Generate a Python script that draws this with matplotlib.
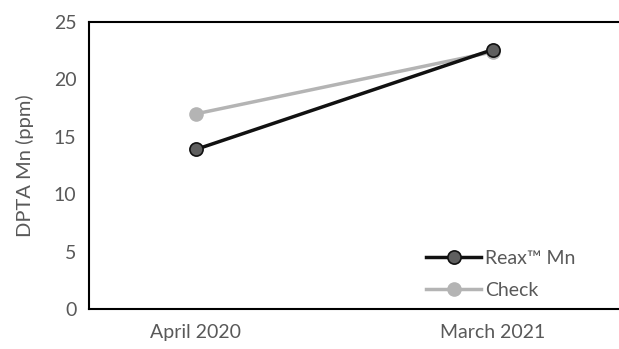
import matplotlib
matplotlib.use("Agg")
from matplotlib import pyplot as plt

dates = ["April 2020", "March 2021"]
reax = [13.9, 22.6]
check = [17.0, 22.4]

plt.rcParams['font.family'] = ['Lato', 'DejaVu Sans']
grey_text = '#595959'

fig = plt.figure(figsize=(6.19, 3.49), dpi=100)
ax = fig.add_axes([89 / 619, 40 / 349, 530 / 619, 287 / 349])

x = range(len(dates))
ax.plot(x, reax, color='#111111', lw=2.5, marker='o', ms=9.5,
        mfc='#5f5f5f', mec='#111111', mew=1.2, label='Reax™ Mn', zorder=3)
ax.plot(x, check, color='#b4b4b4', lw=2.5, marker='o', ms=9.5,
        mfc='#b4b4b4', mec='#b4b4b4', label='Check', zorder=2)

ax.set_xlim(-0.36, 1.424)
ax.set_ylim(0, 25)
ax.set_yticks([0, 5, 10, 15, 20, 25])
ax.set_xticks(list(x))
ax.set_xticklabels(dates)
ax.tick_params(axis='both', length=0, labelsize=14, colors=grey_text)
ax.tick_params(axis='y', pad=9)
ax.tick_params(axis='x', pad=11)
ax.set_ylabel("DPTA Mn (ppm)", fontsize=14.5, color=grey_text, labelpad=14)

for s in ['left', 'top', 'bottom']:
    ax.spines[s].set_linewidth(1.5)
    ax.spines[s].set_color('black')
ax.spines['right'].set_visible(False)

ax.legend(loc='lower right', bbox_to_anchor=(0.95, -0.025), frameon=False,
          fontsize=14, labelcolor=grey_text, handlelength=2.8,
          handletextpad=0.2, labelspacing=0.75)

fig.savefig("out.png", dpi=100)
